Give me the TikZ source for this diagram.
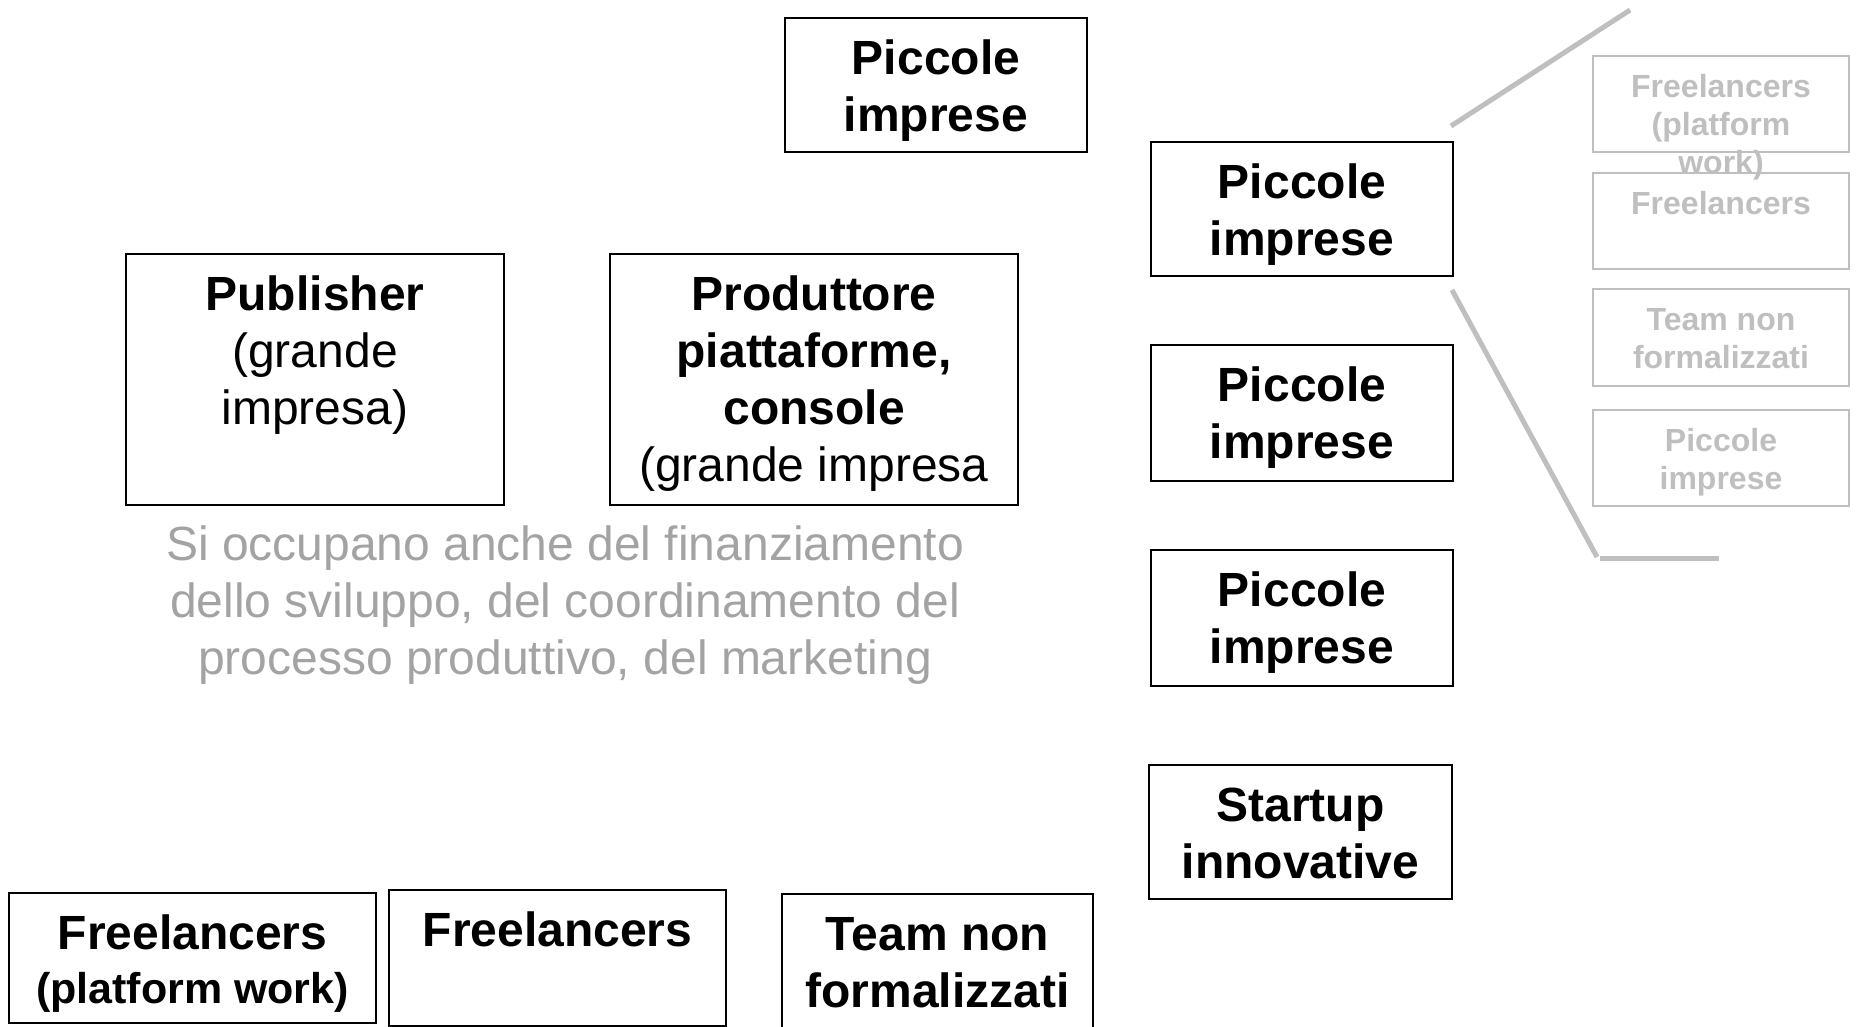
\documentclass[tikz,border=0pt]{standalone}
\usepackage{fontspec}
\setmainfont{Liberation Sans}
\definecolor{lightgr}{RGB}{191,191,191}
\definecolor{notegr}{RGB}{163,163,163}
\newcommand{\tstrut}[1]{\rule{0pt}{#1}}
\begin{document}
\begin{tikzpicture}[x=1pt,y=-1pt,
  mainbox/.style={draw=black,line width=2pt,inner sep=0pt,anchor=north west},
  graybox/.style={draw=lightgr,line width=2pt,inner sep=0pt,anchor=north west,minimum width=256pt,minimum height=96pt},
  maintext/.style={anchor=north,align=center,inner sep=0pt,font=\fontsize{48}{57}\selectfont},
  graytext/.style={anchor=north,align=center,inner sep=0pt,text=lightgr,font=\bfseries\fontsize{32}{38}\selectfont},
  notetext/.style={anchor=north,align=center,inner sep=0pt,text=notegr,font=\fontsize{48}{57}\selectfont},
  zoomline/.style={draw=lightgr,line width=5pt}
]
\useasboundingbox (0,0) rectangle (1868,1026);

% top box
\node[mainbox,minimum width=302pt,minimum height=134pt] (p0) at (784,17) {};
\node[maintext] (p0t) at ([yshift=-17pt]p0.north) {\tstrut{40pt}\textbf{Piccole}\\\textbf{imprese}};

% right column
\node[mainbox,minimum width=302pt,minimum height=134pt] (pa) at (1150,141) {};
\node[maintext] (pat) at ([yshift=-17pt]pa.north) {\tstrut{40pt}\textbf{Piccole}\\\textbf{imprese}};
\node[mainbox,minimum width=302pt,minimum height=136pt] (pb) at (1150,344) {};
\node[maintext] (pbt) at ([yshift=-17pt]pb.north) {\tstrut{40pt}\textbf{Piccole}\\\textbf{imprese}};
\node[mainbox,minimum width=302pt,minimum height=136pt] (pc) at (1150,549) {};
\node[maintext] (pct) at ([yshift=-17pt]pc.north) {\tstrut{40pt}\textbf{Piccole}\\\textbf{imprese}};
\node[mainbox,minimum width=303pt,minimum height=134pt] (st) at (1148,764) {};
\node[maintext] (stt) at ([yshift=-17pt]st.north) {\tstrut{40pt}\textbf{Startup}\\\textbf{innovative}};

% publisher / produttore
\node[mainbox,minimum width=378pt,minimum height=251pt] (pub) at (125,253) {};
\node[maintext] (pubt) at ([yshift=-17pt]pub.north) {\tstrut{40pt}\textbf{Publisher}\\(grande\\impresa)};
\node[mainbox,minimum width=408pt,minimum height=251pt] (prod) at (609,253) {};
\node[maintext] (prodt) at ([yshift=-17pt]prod.north) {\tstrut{40pt}\textbf{Produttore}\\\textbf{piattaforme,}\\\textbf{console}\\(grande impresa};

\node[notetext] (note) at (565,520) {\tstrut{40pt}Si occupano anche del finanziamento\\dello sviluppo, del coordinamento del\\processo produttivo, del marketing};

% bottom row
\node[mainbox,minimum width=367pt,minimum height=130pt] (fl1) at (8,892) {};
\node[maintext] (fl1t) at ([yshift=-17pt]fl1.north) {\tstrut{40pt}\textbf{Freelancers}\\[-3pt]{\fontsize{43}{52}\selectfont\textbf{(platform work)}}};
\node[mainbox,minimum width=337pt,minimum height=136pt] (fl2) at (388,889) {};
\node[maintext] (fl2t) at ([yshift=-17pt]fl2.north) {\tstrut{40pt}\textbf{Freelancers}};
\node[mainbox,minimum width=311pt,minimum height=140pt] (tm) at (781,893) {};
\node[maintext] (tmt) at ([yshift=-17pt]tm.north) {\tstrut{40pt}\textbf{Team non}\\\textbf{formalizzati}};

% gray zoom boxes
\node[graybox] (g1) at (1592,55) {};
\node[graybox] (g2) at (1592,172) {};
\node[graybox,minimum height=97pt] (g3) at (1592,288) {};
\node[graybox] (g4) at (1592,409) {};
\node[graytext] (g1t) at ([yshift=-14pt]g1.north) {\tstrut{28pt}Freelancers\\(platform\\work)};
\node[graytext] (g2t) at ([yshift=-14pt]g2.north) {\tstrut{28pt}Freelancers};
\node[graytext] (g3t) at ([yshift=-14pt]g3.north) {\tstrut{28pt}Team non\\formalizzati};
\node[graytext] (g4t) at ([yshift=-14pt]g4.north) {\tstrut{28pt}Piccole\\imprese};

% zoom lines
\coordinate (z1a) at (1451,126);
\coordinate (z1b) at (1630,10);
\coordinate (z2a) at (1452,290);
\coordinate (z2b) at (1597,557);
\coordinate (z2c) at (1600,558);
\coordinate (z2d) at (1719,558);
\draw[zoomline] (z1a) -- (z1b);
\draw[zoomline] (z2a) -- (z2b);
\draw[zoomline] (z2c) -- (z2d);
\end{tikzpicture}
\end{document}
